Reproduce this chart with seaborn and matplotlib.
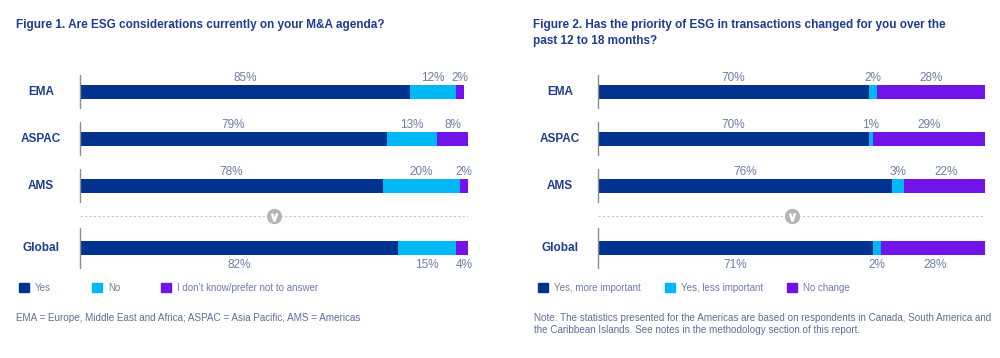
import numpy as np
import pandas as pd
import matplotlib.pyplot as plt
import seaborn as sns
from matplotlib.transforms import blended_transform_factory

regions = ["EMA", "ASPAC", "AMS", "Global"]
row_pos = [0, 1, 2, 3.32]

agenda_labels = ["Yes", "No", "I don\u2019t know/prefer not to answer"]
agenda_yes = [85, 79, 78, 82]
agenda_no = [12, 13, 20, 15]
agenda_dk = [2, 8, 2, 4]

priority_labels = ["Yes, more important", "Yes, less important", "No change"]
priority_more = [70, 70, 76, 71]
priority_less = [2, 1, 3, 2]
priority_same = [28, 29, 22, 28]

colors = ["#00338D", "#00B8F5", "#7213EA"]
title_color = "#1E3D8F"
label_color = "#6E7DA6"
note_color = "#5D6D9D"

sns.set_theme(style="white")
plt.rcParams["font.family"] = ["Liberation Sans", "DejaVu Sans"]

fig = plt.figure(figsize=(10, 3.58), dpi=100)
ax1 = fig.add_axes([0.080, 1 - 275 / 358, 0.388, 215 / 358])
ax2 = fig.add_axes([0.598, 1 - 275 / 358, 0.387, 215 / 358])


def draw_panel(ax, series, label_x):
    vals = np.array(series)
    cum = np.cumsum(vals, axis=0)
    df = pd.DataFrame({"region": regions, "pos": row_pos})
    for k in reversed(range(len(vals))):
        df["end"] = cum[k]
        sns.barplot(data=df, x="end", y="pos", orient="h", native_scale=True,
                    color=colors[k], saturation=1, width=0.285, errorbar=None,
                    linewidth=0, ax=ax)

    for i, y in enumerate(row_pos):
        below = regions[i] == "Global"
        dy = 0.36 if below else -0.30
        start = 0
        for k in range(len(vals)):
            v = vals[k][i]
            ax.text(start + v / 2, y + dy, f"{v}%", ha="center", va="center",
                    fontsize=8.5, color=label_color)
            start += v
        lo, hi = (-0.43, 0.43) if below else (-0.36, 0.34)
        ax.plot([0, 0], [y + lo, y + hi], color="#8c8c8c", lw=1, clip_on=False)
        tr = blended_transform_factory(fig.transFigure, ax.transData)
        ax.text(label_x, y, regions[i], transform=tr, ha="center", va="center",
                fontsize=8.5, fontweight="bold", color=title_color)

    sep = 2.64
    ax.plot([0, 100], [sep, sep], ls=(0, (2, 2)), color="#c4c4c4", lw=0.8)
    ax.plot([50], [sep], marker="o", ms=11, color="#b5b5b5", mec="none")
    ax.plot([50], [sep + 0.02], marker="$\\vee$", ms=5, color="white", mec="white")

    ax.set_xlim(0, 100)
    ax.set_ylim(3.894, -0.681)
    ax.set_axis_off()


draw_panel(ax1, [agenda_yes, agenda_no, agenda_dk], 0.041)
draw_panel(ax2, [priority_more, priority_less, priority_same], 0.560)

fig.text(0.016, 1 - 25 / 358, "Figure 1. Are ESG considerations currently on your M&A agenda?",
         ha="left", va="center", fontsize=8.5, fontweight="bold", color=title_color)
fig.text(0.533, 1 - 33 / 358,
         "Figure 2. Has the priority of ESG in transactions changed for you over the\npast 12 to 18 months?",
         ha="left", va="center", fontsize=8.5, fontweight="bold", color=title_color,
         linespacing=1.35)


def add_legend(labels, x, spacing):
    handles = [plt.Rectangle((0, 0), 1, 1, color=c) for c in colors]
    leg = fig.legend(handles, labels, loc="center left", bbox_to_anchor=(x, 1 - 288 / 358),
                     ncol=3, frameon=False, fontsize=7, handlelength=1.05, handleheight=1.05,
                     handletextpad=0.6, columnspacing=spacing, borderpad=0, borderaxespad=0)
    for t in leg.get_texts():
        t.set_color(label_color)


add_legend(agenda_labels, 0.019, 4.2)
add_legend(priority_labels, 0.538, 2.45)

fig.text(0.016, 1 - 318 / 358,
         "EMA = Europe, Middle East and Africa; ASPAC = Asia Pacific; AMS = Americas",
         ha="left", va="center", fontsize=7.15, color=note_color)
fig.text(0.534, 1 - 324 / 358,
         "Note: The statistics presented for the Americas are based on respondents in Canada, South America and\n"
         "the Caribbean Islands. See notes in the methodology section of this report.",
         ha="left", va="center", fontsize=7.1, color=note_color, linespacing=1.3)

fig.savefig("out.png", dpi=100, facecolor="white")
